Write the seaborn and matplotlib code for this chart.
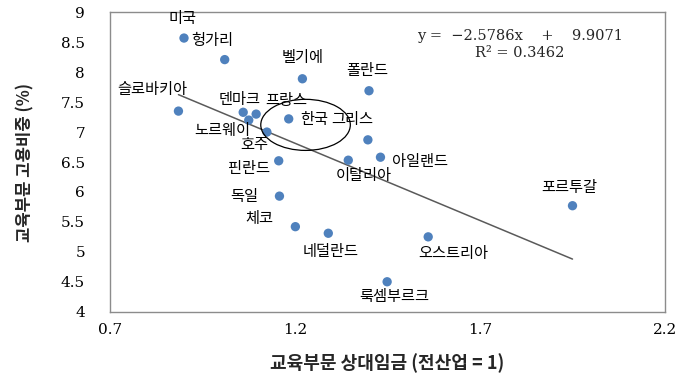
import matplotlib
matplotlib.use("Agg")
import matplotlib.pyplot as plt
from matplotlib.patches import Ellipse
import numpy as np
import pandas as pd
import seaborn as sns

# Countries and their education-sector indicators
countries = ["미국", "헝가리", "벨기에", "폴란드", "슬로바키아", "덴마크", "프랑스",
             "노르웨이", "한국", "호주", "그리스", "아일랜드", "이탈리아", "핀란드",
             "독일", "체코", "네덜란드", "오스트리아", "포르투갈", "룩셈부르크"]
relative_wage = [0.90, 1.01, 1.22, 1.40, 0.885, 1.06, 1.095,
                 1.075, 1.183, 1.124, 1.397, 1.431, 1.344, 1.156,
                 1.158, 1.201, 1.29, 1.56, 1.95, 1.449]
employment_share = [8.57, 8.21, 7.89, 7.69, 7.35, 7.33, 7.30,
                    7.20, 7.22, 7.00, 6.87, 6.58, 6.53, 6.52,
                    5.93, 5.42, 5.31, 5.25, 5.77, 4.50]

# Linear trend reported on the chart
slope = -2.5786
intercept = 9.9071
r_squared = 0.3462

x_ticks = [0.7, 1.2, 1.7, 2.2]
y_ticks = [4, 4.5, 5, 5.5, 6, 6.5, 7, 7.5, 8, 8.5, 9]

# Label placement: offset in pixels from the point and horizontal anchor
label_place = {
    "미국": (-2, 19.5, "center"), "헝가리": (-33, 19.5, "left"),
    "벨기에": (0, 21, "center"), "폴란드": (-2, 20, "center"),
    "슬로바키아": (9, 21.5, "right"), "덴마크": (-4, 13, "center"),
    "프랑스": (9, 13.5, "left"), "노르웨이": (1, -10, "right"),
    "한국": (12, -1, "left"), "호주": (1, -12, "right"),
    "그리스": (-37, 20, "left"), "아일랜드": (12, -4.5, "left"),
    "이탈리아": (15, -15.5, "center"), "핀란드": (-8.5, -8, "right"),
    "독일": (-21, 0, "right"), "체코": (-22, 8.4, "right"),
    "네덜란드": (2, -18.4, "center"), "오스트리아": (25, -16.3, "center"),
    "포르투갈": (-3, 18.4, "center"), "룩셈부르크": (7, -15, "center"),
}

df = pd.DataFrame({"country": countries, "wage": relative_wage, "share": employment_share})

sns.set_theme(style="white")
plt.rcParams["font.family"] = ["Noto Sans CJK KR", "DejaVu Sans"]

fig = plt.figure(figsize=(6.81, 3.78), dpi=100)
ax = fig.add_axes([110 / 681, 1 - 311.7 / 378, 555 / 681, (311.7 - 12.3) / 378])

sns.scatterplot(data=df, x="wage", y="share", ax=ax, color="#4F81BD",
                s=45, edgecolor="none", zorder=3)

# Trend line across the observed range
xs = np.array([min(relative_wage), max(relative_wage)])
ax.plot(xs, slope * xs + intercept, color="#5a5a5a", lw=1.1, zorder=2)

for name, xv, yv in zip(countries, relative_wage, employment_share):
    dx, dy, ha = label_place[name]
    ax.annotate(name, (xv, yv), xytext=(dx, dy), textcoords="offset pixels",
                ha=ha, va="center", fontsize=11, color="black", zorder=4)

# Highlight around Korea
ax.add_patch(Ellipse((1.2285, 7.12), 0.242, 0.853, fill=False,
                     edgecolor="black", lw=0.9, zorder=4))

sign = "−" if slope < 0 else ""
ax.text(0.739, 0.921, f"y =  {sign}{abs(slope)}x    +    {intercept}", transform=ax.transAxes,
        ha="center", va="center", fontsize=10.5, family="DejaVu Serif")
ax.text(0.739, 0.864, f"R² = {r_squared}", transform=ax.transAxes,
        ha="center", va="center", fontsize=10.5, family="DejaVu Serif")

ax.set_xlim(0.7, 2.2)
ax.set_ylim(4, 9)
ax.set_xticks(x_ticks)
ax.set_yticks(y_ticks)
ax.set_xticklabels([f"{v:g}" for v in x_ticks], family="DejaVu Serif")
ax.set_yticklabels([f"{v:g}" for v in y_ticks], family="DejaVu Serif")
ax.tick_params(axis="x", length=0, pad=8, labelsize=11, colors="black")
ax.tick_params(axis="y", length=0, pad=18, labelsize=11, colors="black")

for sp in ax.spines.values():
    sp.set_visible(True)
    sp.set_color("#8c8c8c")
    sp.set_linewidth(1.0)

ax.set_xlabel("교육부문 상대임금 (전산업 = 1)", fontsize=13, fontweight="bold", labelpad=12)
ax.set_ylabel("교육부문 고용비중 (%)", fontsize=12, fontweight="bold", labelpad=19)
ax.grid(False)

fig.savefig("out.png", dpi=100)
